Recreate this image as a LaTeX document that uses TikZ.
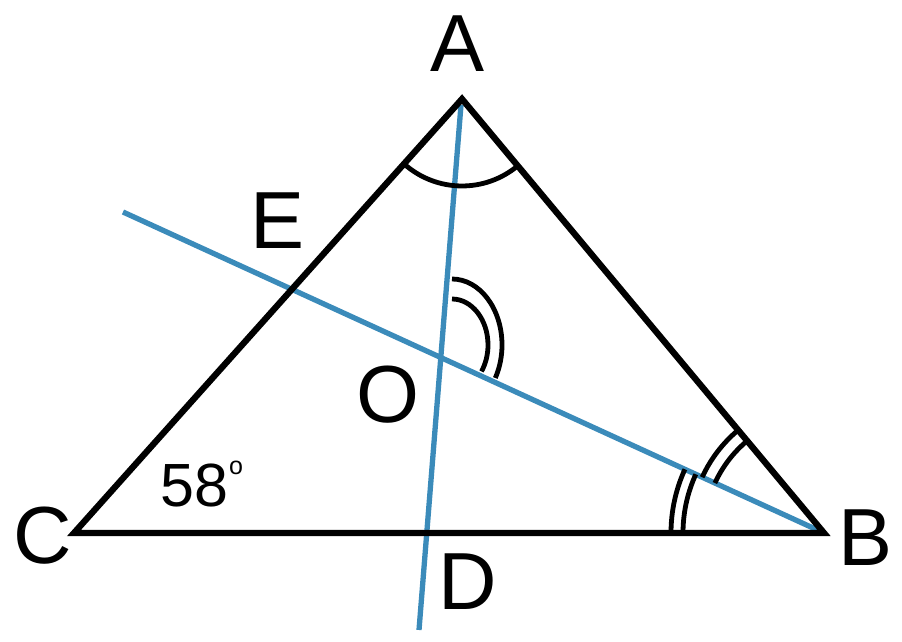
\documentclass[tikz,border=0pt]{standalone}
\usepackage{fontspec}
\setmainfont{Liberation Sans}
\definecolor{segblue}{RGB}{59,139,186}
\begin{document}
\begin{tikzpicture}[x=1pt,y=1pt,
  side/.style={line width=6.3pt,black,line join=miter},
  ray/.style={line width=5.3pt,segblue},
  anglearc/.style={line width=4.8pt,black},
  lbl/.style={inner sep=0pt,font=\fontsize{81}{81}\selectfont}]
\useasboundingbox (0,0) rectangle (902,642);
\coordinate (A) at (462,543);
\coordinate (B) at (824,109);
\coordinate (C) at (74,109);
\coordinate (Atop) at (461,537);
\coordinate (Dend) at (419,12);
\coordinate (Eend) at (123,430);
\coordinate (O) at (441,285);
% blue lines
\draw[ray] (Atop) -- (Dend);
\draw[ray] (B) -- (Eend);
% triangle
\draw[side] (A) -- (B) -- (C) -- cycle;
% angle marks
\draw[anglearc] (A) ++(228.3:87) arc[start angle=228.3,end angle=309.7,radius=87];
\draw[anglearc] (452,363) arc[start angle=90,end angle=-30,x radius=50,y radius=66];
\draw[anglearc] (452,343) arc[start angle=90,end angle=-35,x radius=36,y radius=46];
\draw[anglearc] (B) ++(180:153) arc[start angle=180,end angle=155.4,radius=153];
\draw[anglearc] (B) ++(180:141) arc[start angle=180,end angle=155.4,radius=141];
\draw[anglearc] (B) ++(155.4:134) arc[start angle=155.4,end angle=129.7,radius=134];
\draw[anglearc] (B) ++(155.4:120) arc[start angle=155.4,end angle=129.7,radius=120];
% labels
\node[lbl] (lA) at (458,598) {A};
\node[lbl] (lB) at (866,104) {B};
\node[lbl] (lC) at (43,106) {C};
\node[lbl] (lD) at (468,60) {D};
\node[lbl] (lE) at (278,421) {E};
\node[lbl] (lO) at (388,247) {O};
\node[inner sep=0pt,anchor=base west,font=\fontsize{61}{61}\selectfont] (ang) at (160,135) {58\hspace{1pt}\raisebox{32pt}{\fontsize{25}{25}\selectfont o}};
\end{tikzpicture}
\end{document}
